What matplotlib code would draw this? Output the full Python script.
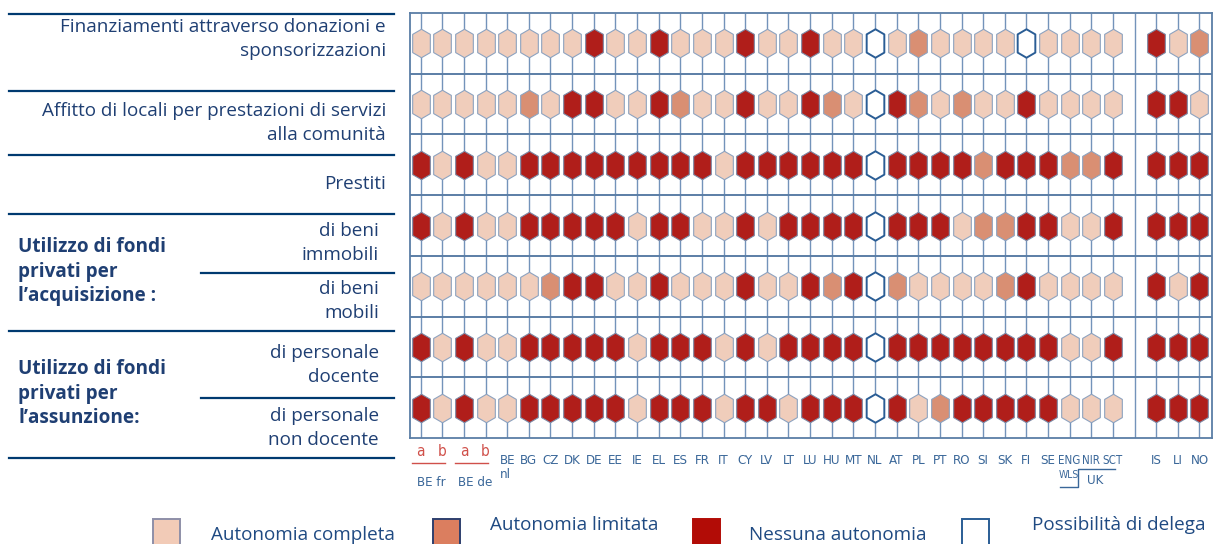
import numpy as np
import matplotlib.pyplot as plt
from matplotlib.path import Path
from matplotlib.patches import Rectangle

# codes: 0 autonomia completa, 1 autonomia limitata, 2 nessuna autonomia, 3 possibilita di delega
countries = ['a', 'b', 'a', 'b', 'BE nl', 'BG', 'CZ', 'DK', 'DE', 'EE', 'IE', 'EL', 'ES', 'FR',
             'IT', 'CY', 'LV', 'LT', 'LU', 'HU', 'MT', 'NL', 'AT', 'PL', 'PT', 'RO', 'SI', 'SK',
             'FI', 'SE', 'ENG', 'NIR', 'SCT', 'IS', 'LI', 'NO']
xpos = list(range(33)) + [34, 35, 36]

donazioni = [0, 0, 0, 0, 0, 0, 0, 0, 2, 0, 0, 2, 0, 0, 0, 2, 0, 0, 2,
             0, 0, 3, 0, 1, 0, 0, 0, 0, 3, 0, 0, 0, 0, 2, 0, 1]
affitto = [0, 0, 0, 0, 0, 1, 0, 2, 2, 0, 0, 2, 1, 0, 0, 2, 0, 0, 2,
           1, 0, 3, 2, 1, 0, 1, 0, 0, 2, 0, 0, 0, 0, 2, 2, 0]
prestiti = [2, 0, 2, 0, 0, 2, 2, 2, 2, 2, 2, 2, 2, 2, 0, 2, 2, 2, 2,
            2, 2, 3, 2, 2, 2, 2, 1, 2, 2, 2, 1, 1, 2, 2, 2, 2]
immobili = [2, 0, 2, 0, 0, 2, 2, 2, 2, 2, 0, 2, 2, 0, 0, 2, 0, 2, 2,
            2, 2, 3, 2, 2, 2, 0, 1, 1, 2, 2, 0, 0, 2, 2, 2, 2]
mobili = [0, 0, 0, 0, 0, 0, 1, 2, 2, 0, 0, 2, 0, 0, 0, 2, 0, 0, 2,
          1, 2, 3, 1, 0, 0, 0, 0, 1, 2, 0, 0, 0, 0, 2, 0, 2]
docente = [2, 0, 2, 0, 0, 2, 2, 2, 2, 2, 0, 2, 2, 2, 0, 2, 0, 2, 2,
           2, 2, 3, 2, 2, 2, 2, 2, 2, 2, 2, 0, 0, 2, 2, 2, 2]
non_docente = [2, 0, 2, 0, 0, 2, 2, 2, 2, 2, 0, 2, 2, 2, 0, 2, 2, 0, 2,
               2, 2, 3, 2, 0, 1, 2, 2, 2, 2, 2, 0, 0, 0, 2, 2, 2]
rows = [donazioni, affitto, prestiti, immobili, mobili, docente, non_docente]

legend_labels = ['Autonomia completa', 'Autonomia limitata', 'Nessuna autonomia',
                 'Possibilità di delega']

FILL = {0: '#f0cdbb', 1: '#d98f73', 2: '#b01e1a', 3: 'white'}
EDGE = {0: '#8da3c0', 1: '#8da3c0', 2: '#7d8aa6', 3: '#2a5d95'}
NAVY = '#1f3f73'
LINE = '#003a70'
LAB = '#3a6799'
RED = '#d0504a'
FONT = ['Open Sans', 'DejaVu Sans']
NARROW = dict(family=['DejaVu Sans'], stretch='condensed')

W, H = 1222, 544
fig = plt.figure(figsize=(W / 100, H / 100), dpi=100)


def px_axes(l, t, r, b):
    return fig.add_axes([l / W, 1 - b / H, (r - l) / W, (b - t) / H])


# ---- grid of hexagons
ax = px_axes(410, 13, 1212, 438)
ax.set_xlim(-0.495, 36.58)
ax.set_ylim(6.5, -0.5)
ax.set_xticks([])
ax.set_yticks([])
for s in ax.spines.values():
    s.set_color('#5b7ea6')
    s.set_linewidth(1.3)
ax.vlines(range(37), -0.5, 6.5, color='#7393ba', lw=1.0, zorder=1)
ax.hlines(np.arange(0.5, 6.5), -0.5, 36.6, color='#5b7ea6', lw=1.4, zorder=1)

hexagon = Path([(0, 1), (0.62, 0.64), (0.62, -0.64), (0, -1), (-0.62, -0.64),
                (-0.62, 0.64), (0, 1)], closed=True)
xs = np.array(xpos)
for r, vals in enumerate(rows):
    vals = np.array(vals)
    for code in range(4):
        m = vals == code
        if not m.any():
            continue
        ax.scatter(xs[m], np.full(m.sum(), r), marker=hexagon, s=420,
                   facecolor=FILL[code], edgecolor=EDGE[code],
                   linewidth=1.4 if code == 3 else 0.8, zorder=3)

# ---- x labels
tr = ax.get_xaxis_transform()


def below(px):
    return -px / 425


for x, lab in zip(xpos, countries):
    if lab in ('a', 'b'):
        ax.text(x, below(14), lab, transform=tr, ha='center', va='center',
                fontsize=11, color=RED, **NARROW)
    elif lab == 'BE nl':
        ax.text(x, below(23), 'BE', transform=tr, ha='center', va='center',
                fontsize=9.5, color=LAB, **NARROW)
        ax.text(x - 0.1, below(37), 'nl', transform=tr, ha='center', va='center',
                fontsize=9.5, color=LAB, **NARROW)
    else:
        ax.text(x, below(23), lab, transform=tr, ha='center', va='center',
                fontsize=9.5 if len(lab) < 3 else 8.3, color=LAB, **NARROW)

for x0, name in [(0, 'BE fr'), (2, 'BE de')]:
    ax.plot([x0 - 0.4, x0 + 1.12], [below(25)] * 2, transform=tr, color=RED,
            lw=1, clip_on=False)
    ax.text(x0 + 0.5, below(44), name, transform=tr, ha='center', va='center',
            fontsize=9.5, color=LAB, **NARROW)

ax.text(29.98, below(37), 'WLS', transform=tr, ha='center', va='center',
        fontsize=7.5, color=LAB, **NARROW)
ax.text(31.2, below(42), 'UK', transform=tr, ha='center', va='center',
        fontsize=9.5, color=LAB, **NARROW)
ax.plot([29.56, 30.4, 30.4, 32.1], [below(49), below(49), below(31), below(31)],
        transform=tr, color=LAB, lw=1, clip_on=False)

# ---- left panel and legend, drawn in pixel space
lay = fig.add_axes([0, 0, 1, 1])
lay.set_xlim(0, W)
lay.set_ylim(H, 0)
lay.axis('off')

for y in [14, 91, 155, 214, 331, 458]:
    lay.plot([9, 394], [y, y], color=LINE, lw=1.6)
for y in [273, 398]:
    lay.plot([201, 394], [y, y], color=LINE, lw=1.6)

right_texts = [
    (386, 27, 'Finanziamenti attraverso donazioni e'),
    (386, 51, 'sponsorizzazioni'),
    (386, 111, 'Affitto di locali per prestazioni di servizi'),
    (386, 135, 'alla comunità'),
    (386, 184, 'Prestiti'),
    (379, 231, 'di beni'),
    (379, 255, 'immobili'),
    (379, 289, 'di beni'),
    (379, 313, 'mobili'),
    (379, 353, 'di personale'),
    (379, 377, 'docente'),
    (379, 416, 'di personale'),
    (379, 440, 'non docente'),
]
for x, y, s in right_texts:
    lay.text(x, y, s, ha='right', va='center', fontsize=13.6, color=NAVY, family=FONT)

bold_texts = [
    (247, 'Utilizzo di fondi'), (272, 'privati per'), (296, 'l’acquisizione :'),
    (369, 'Utilizzo di fondi'), (394, 'privati per'), (418, 'l’assunzione:'),
]
for y, s in bold_texts:
    lay.text(18, y, s, ha='left', va='center', fontsize=13.7, fontweight='bold',
             color=NAVY, family=FONT)

# legend
leg_fill = ['#f2cbb7', '#db7e5f', '#b20c06', 'white']
leg_edge = ['#8e8fa8', '#2e3f6e', '#b20c06', '#2a5d95']
leg_box = [153, 433, 693, 962]
leg_text = [(211, 535), (490, 525), (749, 535), (1032, 525)]
for lab, fc, ec, bx, (tx, ty) in zip(legend_labels, leg_fill, leg_edge, leg_box, leg_text):
    lay.add_patch(Rectangle((bx, 519), 27, 30, facecolor=fc, edgecolor=ec,
                            lw=1.4, clip_on=False))
    lay.text(tx, ty, lab, ha='left', va='center', fontsize=13.6, color='#1f4a82',
             family=FONT)

fig.savefig('out.png', dpi=100)
